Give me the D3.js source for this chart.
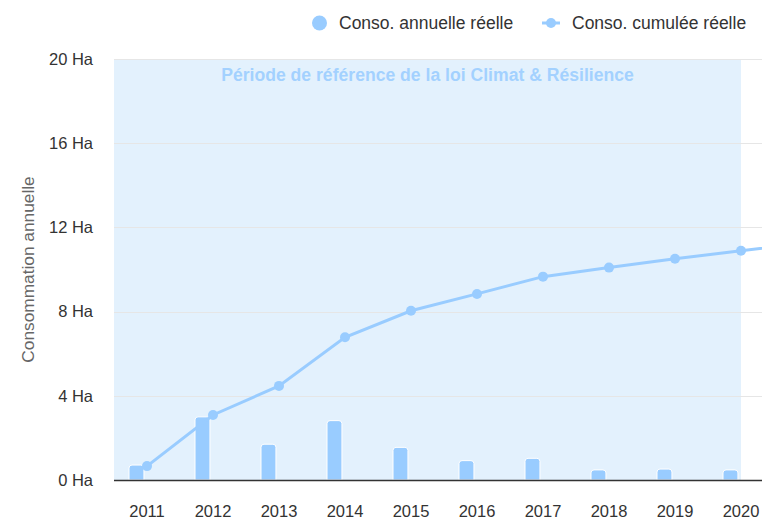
<!DOCTYPE html>
<html>
<head>
<meta charset="utf-8">
<script src="https://cdn.jsdelivr.net/npm/d3@7"></script>
<style>
  html, body { margin: 0; padding: 0; background: #fff; overflow: hidden; }
  text { font-family: "Liberation Sans", Arial, Helvetica, sans-serif; }
</style>
</head>
<body>
<div id="chart"></div>
<script>
// data
const years = ["2011", "2012", "2013", "2014", "2015", "2016", "2017", "2018", "2019", "2020", "2021"];
const annuelle = [0.71, 3.0, 1.7, 2.82, 1.55, 0.92, 1.03, 0.48, 0.52, 0.48];
const cumulee = [0.66, 3.09, 4.47, 6.78, 8.04, 8.84, 9.66, 10.09, 10.51, 10.89, 11.26];
const yTicks = [0, 4, 8, 12, 16, 20];
const bandLabel = "Période de référence de la loi Climat & Résilience";

const W = 762, H = 519;
const margin = { top: 59, bottom: 39, left: 114 };
const plotH = H - margin.top - margin.bottom;

const svg = d3.select("#chart")
  .append("svg")
    .attr("width", W)
    .attr("height", H);

// x: categories, step 66px, plot keeps going past the right edge
const xScale = d3.scaleBand()
  .domain(years)
  .range([margin.left, margin.left + 66 * years.length]);

// two column slots per category, the annual one sits on the left
const xSub = d3.scaleBand()
  .domain(["annuelle", "autre"])
  .range([15, 51])
  .paddingInner(0.29);

const yScale = d3.scaleLinear()
  .domain([0, 20])
  .range([H - margin.bottom, margin.top]);

// plot band 2011 -> 2020
svg.append("rect")
  .attr("x", xScale("2011"))
  .attr("y", margin.top)
  .attr("width", xScale("2020") + xScale.bandwidth() / 2 - xScale("2011"))
  .attr("height", plotH)
  .attr("fill", "#e3f1fd");

// grid
svg.append("g")
  .selectAll("line")
  .data(yTicks.filter(d => d > 0))
  .enter().append("line")
    .attr("x1", margin.left)
    .attr("x2", W)
    .attr("y1", d => Math.round(yScale(d)) + 0.5)
    .attr("y2", d => Math.round(yScale(d)) + 0.5)
    .attr("stroke", "#e6e6e6")
    .attr("stroke-width", 1);

svg.append("text")
  .attr("x", (xScale("2011") + xScale("2020") + xScale.bandwidth() / 2) / 2)
  .attr("y", 81)
  .attr("text-anchor", "middle")
  .attr("font-weight", "bold")
  .attr("font-size", "17.6px")
  .attr("fill", "#a3d1ff")
  .text(bandLabel);

// y axis labels
const yAxis = svg.append("g")
  .attr("transform", `translate(${margin.left},0)`)
  .call(d3.axisLeft(yScale).tickValues(yTicks).tickSize(0).tickPadding(21).tickFormat(d => d + " Ha"));
yAxis.select(".domain").remove();
yAxis.selectAll("text")
  .attr("font-size", "16.5px")
  .attr("fill", "#333")
  .style("font-family", "\"Liberation Sans\", Arial, sans-serif");

svg.append("text")
  .attr("transform", "rotate(-90)")
  .attr("x", -(margin.top + plotH / 2))
  .attr("y", 34)
  .attr("text-anchor", "middle")
  .attr("font-size", "17.3px")
  .attr("fill", "#666")
  .text("Consommation annuelle");

// bars with rounded top corners
const r = 3;
function barPath(x, y, w, h) {
  const rr = Math.min(r, h);
  return `M${x},${y + h}V${y + rr}Q${x},${y} ${x + rr},${y}H${x + w - rr}Q${x + w},${y} ${x + w},${y + rr}V${y + h}Z`;
}
svg.append("g")
  .selectAll("path")
  .data(annuelle)
  .enter().append("path")
    .attr("d", (d, i) => {
      const x = xScale(years[i]) + xSub("annuelle");
      const y = yScale(d);
      return barPath(x, y, xSub.bandwidth(), yScale(0) - y);
    })
    .attr("fill", "#99ccff")
    .attr("stroke", "#fff")
    .attr("stroke-width", 1);

// x axis
const xAxis = svg.append("g")
  .attr("transform", `translate(0,${H - margin.bottom})`)
  .call(d3.axisBottom(xScale).tickSize(0).tickPadding(25));
xAxis.select(".domain")
  .attr("d", `M${margin.left},0.5H${W}`)
  .attr("stroke", "#333")
  .attr("stroke-width", 1.5);
xAxis.selectAll("text")
  .attr("font-size", "16.5px")
  .attr("fill", "#333")
  .style("font-family", "\"Liberation Sans\", Arial, sans-serif");

// cumulative line
const line = d3.line()
  .x((d, i) => xScale(years[i]) + xScale.bandwidth() / 2)
  .y(d => yScale(d));

svg.append("path")
  .datum(cumulee)
  .attr("d", line)
  .attr("fill", "none")
  .attr("stroke", "#99ccff")
  .attr("stroke-width", 3);

svg.append("g")
  .selectAll("circle")
  .data(cumulee)
  .enter().append("circle")
    .attr("cx", (d, i) => xScale(years[i]) + xScale.bandwidth() / 2)
    .attr("cy", d => yScale(d))
    .attr("r", 5)
    .attr("fill", "#99ccff");

// legend
const legend = svg.append("g");
legend.append("circle")
  .attr("cx", 319.5).attr("cy", 23).attr("r", 7.5)
  .attr("fill", "#99ccff");
legend.append("text")
  .attr("x", 339).attr("y", 29)
  .attr("font-size", "17.5px").attr("fill", "#333")
  .text("Conso. annuelle réelle");
legend.append("line")
  .attr("x1", 542).attr("x2", 560).attr("y1", 23).attr("y2", 23)
  .attr("stroke", "#99ccff").attr("stroke-width", 3);
legend.append("circle")
  .attr("cx", 551).attr("cy", 23).attr("r", 5)
  .attr("fill", "#99ccff");
legend.append("text")
  .attr("x", 572).attr("y", 29)
  .attr("font-size", "17.5px").attr("fill", "#333")
  .text("Conso. cumulée réelle");
</script>
</body>
</html>
